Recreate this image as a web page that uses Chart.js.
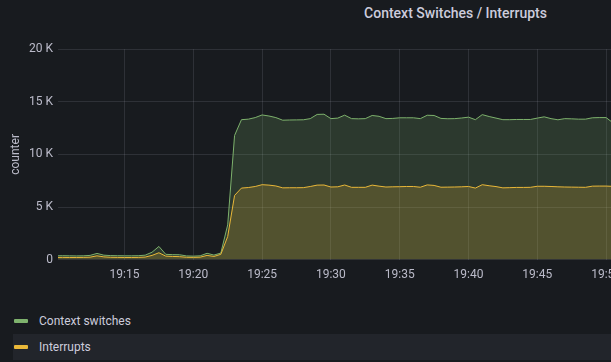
<!DOCTYPE html>
<html>
<head>
<meta charset="utf-8">
<script src="https://cdn.jsdelivr.net/npm/chart.js@4.4.0/dist/chart.umd.min.js"></script>
<style>
  html, body { margin: 0; padding: 0; background: #181b1f; width: 611px; height: 362px; overflow: hidden; }
  body { position: relative; font-family: Roboto, Inter, sans-serif; color: #ccccdc; }
  #title { position: absolute; top: 3px; left: 0; width: 911px; text-align: center; font-size: 14px; font-weight: 500; line-height: 20px; }
  #chart { position: absolute; left: 0; top: 37px; width: 668px; height: 253px; }
  #legend { position: absolute; left: 13px; top: 308px; width: 598px; }
  .row { height: 26px; display: flex; align-items: center; font-size: 12px; }
  .row.hl { background: #22252b; }
  .sw { width: 14px; height: 4px; margin-left: 1px; margin-right: 11px; border-radius: 1px; }
</style>
</head>
<body>
<div id="title">Context Switches / Interrupts</div>
<canvas id="chart" width="668" height="253"></canvas>
<div id="legend"></div>
<script>
'use strict';

// sample times: minutes after 19:00, one sample every 30 s
const TIME_START = 10;
const TIME_STEP = 0.5;

const SERIES_NAMES = ['Context switches', 'Interrupts'];
const SERIES_COLORS = ['#7eb26d', '#eab839'];

const contextSwitches = [
  360, 370, 360, 350, 360, 400, 590, 420, 380, 370, 360, 360, 370, 420, 700, 1250,
  500, 470, 460, 350, 330, 360, 600, 430, 620, 3300, 11800,
  13300, 13350, 13500, 13750, 13650, 13500, 13250, 13270, 13280, 13290, 13400, 13800,
  13820, 13400, 13450, 13730, 13400, 13380, 13400, 13700, 13620, 13400, 13420, 13480,
  13480, 13480, 13400, 13720, 13700, 13420, 13390, 13400, 13460, 13540, 13300, 13780,
  13600, 13450, 13300, 13300, 13320, 13320, 13320, 13450, 13570, 13400, 13290, 13400,
  13380, 13350, 13350, 13480, 13500, 13500, 13000
];

const interrupts = [
  200, 210, 200, 200, 210, 230, 360, 260, 220, 210, 200, 200, 210, 240, 400, 650,
  330, 300, 280, 220, 210, 230, 400, 300, 500, 2200, 6100,
  6800, 6850, 6950, 7120, 7080, 7000, 6820, 6830, 6830, 6840, 6950, 7080,
  7090, 6900, 6920, 7090, 6870, 6870, 6870, 7080, 6980, 6900, 6920, 6930,
  6950, 6950, 6880, 7100, 7050, 6880, 6890, 6900, 6920, 6950, 6800, 7120,
  7020, 6940, 6820, 6840, 6860, 6860, 6870, 6970, 6970, 6950, 6920, 6900,
  6890, 6880, 6870, 6980, 6990, 6990, 6960
];

const Y_TICKS = [0, 5000, 10000, 15000, 20000];

const times = contextSwitches.map((_, i) => TIME_START + i * TIME_STEP);
const toPoints = vals => vals.map((v, i) => ({ x: times[i], y: v }));

const TEXT = 'rgba(204, 204, 220, 0.9)';
const GRID = 'rgba(204, 204, 220, 0.13)';
const FONT = { family: 'Roboto, Inter, sans-serif', size: 12 };

function fmtTime(m) {
  const mm = Math.round(m);
  return (19 + Math.floor(mm / 60)) + ':' + String(mm % 60).padStart(2, '0');
}

function fmtK(v) {
  return v === 0 ? '0' : (v / 1000) + ' K';
}

new Chart(document.getElementById('chart'), {
  type: 'line',
  data: {
    datasets: [
      {
        label: SERIES_NAMES[0],
        data: toPoints(contextSwitches),
        borderColor: SERIES_COLORS[0],
        backgroundColor: 'rgba(126, 178, 109, 0.2)',
        fill: 'origin',
        borderWidth: 1,
        pointRadius: 0,
        tension: 0,
        order: 1,
      },
      {
        label: SERIES_NAMES[1],
        data: toPoints(interrupts),
        borderColor: SERIES_COLORS[1],
        backgroundColor: 'rgba(234, 184, 57, 0.2)',
        fill: 'origin',
        borderWidth: 1,
        pointRadius: 0,
        tension: 0,
        order: 0,
      },
    ],
  },
  options: {
    responsive: false,
    animation: false,
    devicePixelRatio: 1,
    layout: { padding: { top: 0, right: 0, bottom: 0, left: 0 } },
    plugins: {
      legend: { display: false },
      tooltip: { enabled: false },
    },
    scales: {
      x: {
        type: 'linear',
        min: 10.167,
        max: 54.5,
        grid: { color: GRID, drawTicks: false },
        border: { display: false },
        ticks: {
          stepSize: 5,
          includeBounds: false,
          color: TEXT,
          font: FONT,
          padding: 8,
          maxRotation: 0,
          callback: v => fmtTime(v),
        },
      },
      y: {
        min: 0,
        max: 20000,
        afterBuildTicks: s => { s.ticks = Y_TICKS.map(v => ({ value: v })); },
        afterFit: s => { s.width = 58; },
        grid: { color: GRID, drawTicks: false },
        border: { display: false },
        ticks: {
          color: TEXT,
          font: FONT,
          padding: 5,
          callback: v => fmtK(v),
        },
        title: {
          display: true,
          text: 'counter',
          color: TEXT,
          font: FONT,
          padding: { top: 9, bottom: 0 },
        },
      },
    },
  },
});

// legend rows
const legend = document.getElementById('legend');
SERIES_NAMES.forEach((name, i) => {
  const row = document.createElement('div');
  row.className = 'row' + (i === 1 ? ' hl' : '');
  const sw = document.createElement('div');
  sw.className = 'sw';
  sw.style.background = SERIES_COLORS[i];
  const label = document.createElement('span');
  label.textContent = name;
  row.appendChild(sw);
  row.appendChild(label);
  legend.appendChild(row);
});
</script>
</body>
</html>
